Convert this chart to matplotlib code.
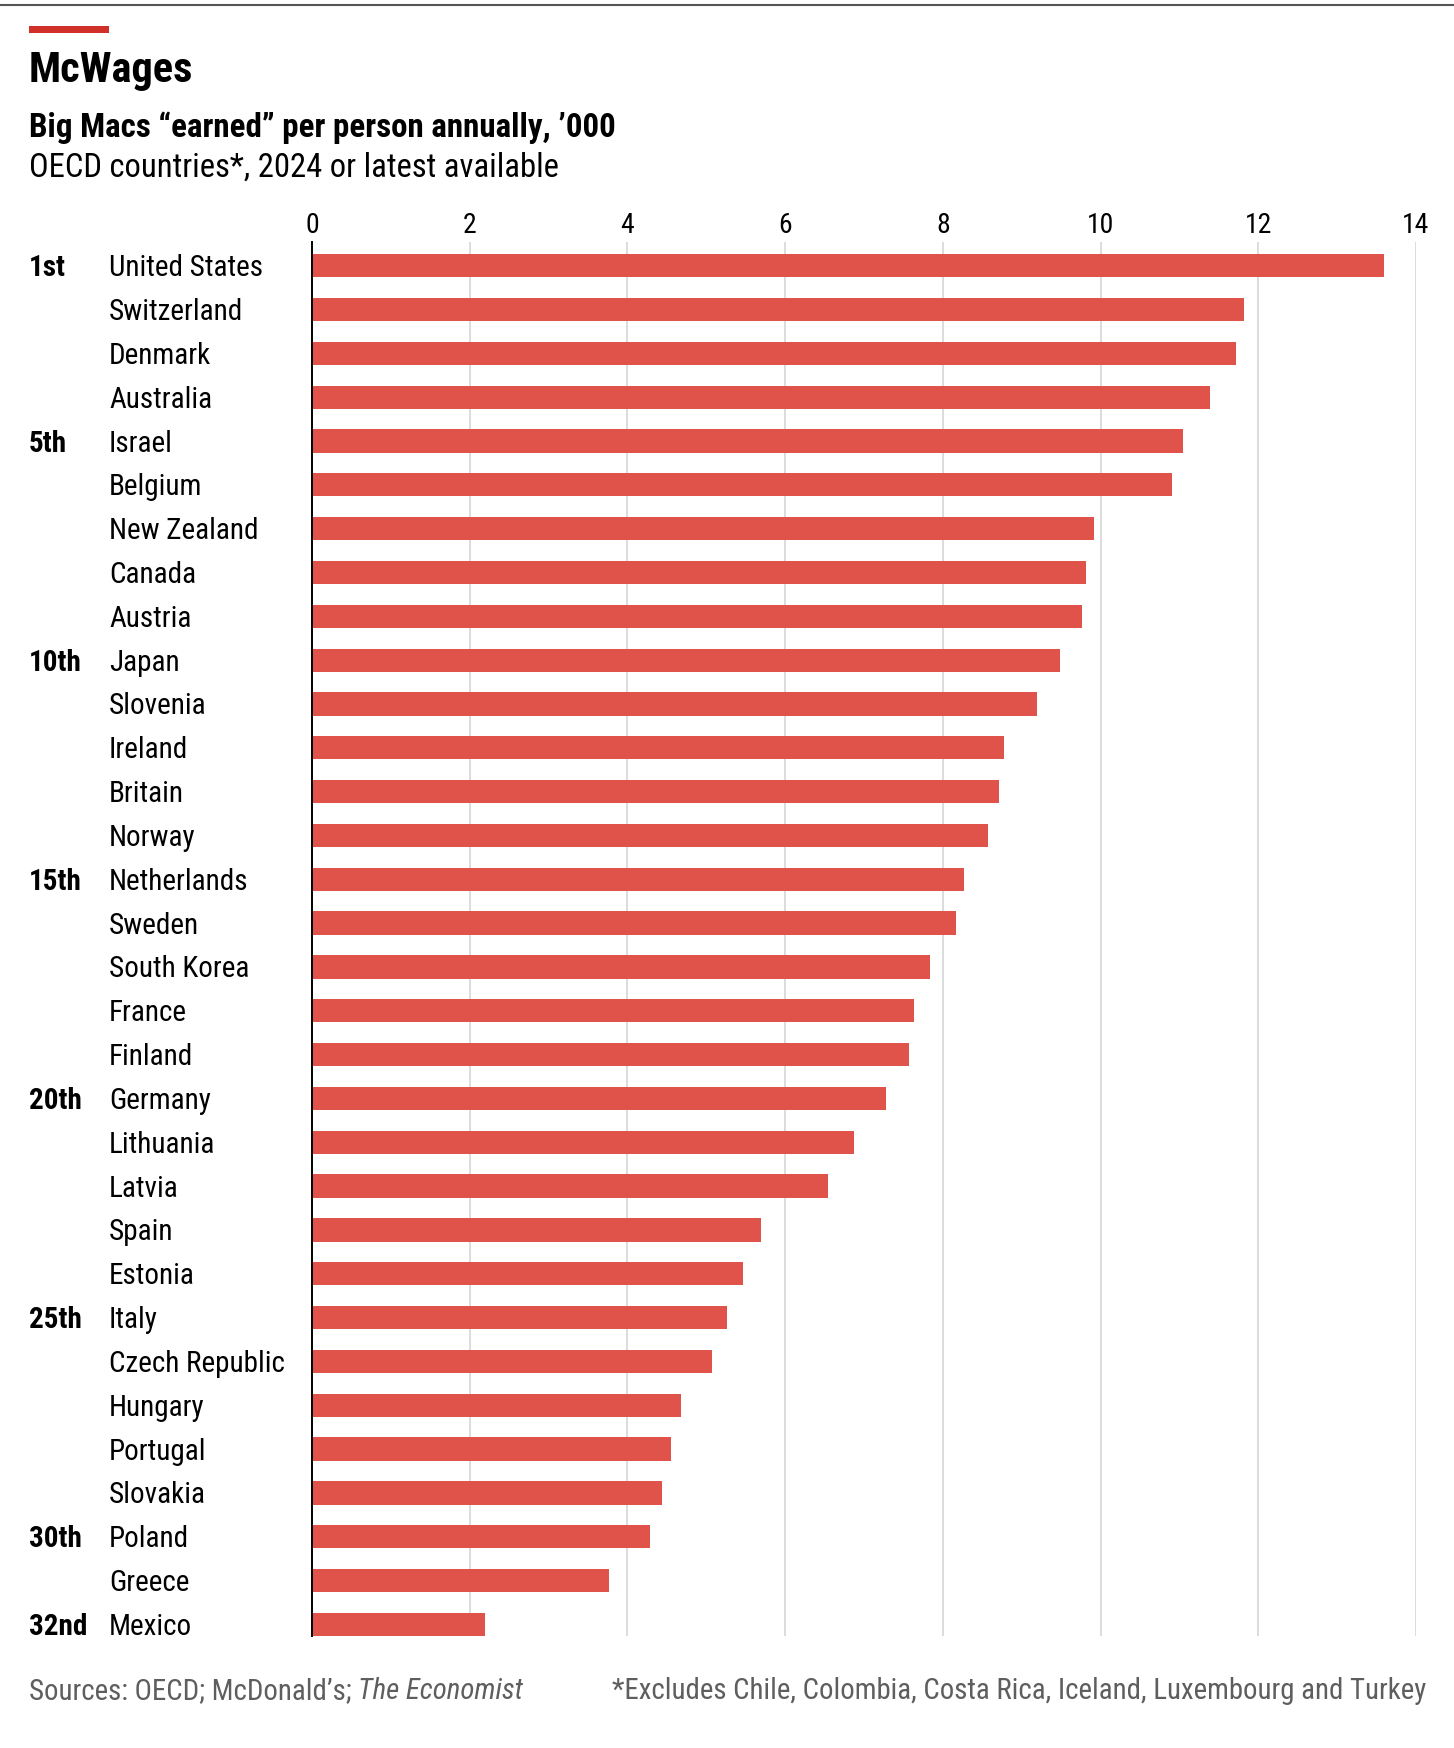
import matplotlib
matplotlib.use("Agg")
import matplotlib.pyplot as plt
from matplotlib.transforms import blended_transform_factory
from matplotlib.lines import Line2D
from matplotlib.patches import Rectangle

# ---------------- data ----------------
countries = ["United States", "Switzerland", "Denmark", "Australia", "Israel",
             "Belgium", "New Zealand", "Canada", "Austria", "Japan",
             "Slovenia", "Ireland", "Britain", "Norway", "Netherlands",
             "Sweden", "South Korea", "France", "Finland", "Germany",
             "Lithuania", "Latvia", "Spain", "Estonia", "Italy",
             "Czech Republic", "Hungary", "Portugal", "Slovakia", "Poland",
             "Greece", "Mexico"]
big_macs = [13.60, 11.82, 11.72, 11.39, 11.05,
            10.90, 9.92, 9.82, 9.77, 9.49,
            9.19, 8.78, 8.71, 8.57, 8.27,
            8.17, 7.84, 7.64, 7.57, 7.28,
            6.87, 6.54, 5.69, 5.46, 5.26,
            5.07, 4.68, 4.55, 4.44, 4.29,
            3.77, 2.20]
rank_labels = {0: "1st", 4: "5th", 9: "10th", 14: "15th", 19: "20th",
               24: "25th", 29: "30th", 31: "32nd"}
x_ticks = [0, 2, 4, 6, 8, 10, 12, 14]

title = "McWages"
subtitle = "Big Macs \u201cearned\u201d per person annually, \u2019000"
subtitle2 = "OECD countries*, 2024 or latest available"
source_a = "Sources: OECD; McDonald\u2019s; "
source_b = "The Economist"
footnote = "*Excludes Chile, Colombia, Costa Rica, Iceland, Luxembourg and Turkey"

# ---------------- style ----------------
plt.rcParams['font.family'] = ['Roboto Condensed', 'Roboto', 'DejaVu Sans']
BAR = '#E0534A'
RED = '#D12F2A'
GRID = '#D9D9D9'
GREY = '#5E5E5E'

W, H = 1454, 1748
fig = plt.figure(figsize=(W / 100, H / 100), dpi=100)

def fx(px):
    return px / W

def fy(py):
    return 1 - py / H

ax = fig.add_axes([fx(312), fy(1636), fx(1416) - fx(312), fy(242) - fy(1636)])

ypos = list(range(len(countries)))
ax.barh(ypos, big_macs, height=0.53, color=BAR, zorder=2)
ax.set_xlim(0, 14)
ax.set_ylim(len(countries) - 1 + 0.265, -0.54)

ax.xaxis.tick_top()
ax.set_xticks(x_ticks)
ax.set_xticklabels([str(t) for t in x_ticks])
ax.tick_params(axis='x', length=0, pad=2.5, labelsize=20, labelcolor='black')
ax.set_yticks([])
for side in ['top', 'right', 'bottom']:
    ax.spines[side].set_visible(False)
ax.spines['left'].set_color('black')
ax.spines['left'].set_linewidth(1.4)
ax.spines['left'].set_zorder(3)
for t in x_ticks[1:]:
    ax.axvline(t, color=GRID, lw=1.3, zorder=1)

# labels
tr = blended_transform_factory(fig.transFigure, ax.transData)
for i, name in enumerate(countries):
    ax.text(fx(109), i + 0.24, name, transform=tr, ha='left', va='baseline',
            fontsize=21, color='black')
    if i in rank_labels:
        ax.text(fx(29), i + 0.24, rank_labels[i], transform=tr, ha='left',
                va='baseline', fontsize=21, fontweight='bold', color='black')

# header
fig.add_artist(Line2D([0, 1], [fy(5), fy(5)], color='#555555', lw=1.5,
                      transform=fig.transFigure))
fig.add_artist(Rectangle((fx(29), fy(33)), fx(109) - fx(29), fy(26) - fy(33),
                         color=RED, transform=fig.transFigure, lw=0))
fig.text(fx(29), fy(82), title, fontsize=30.5, fontweight='bold', va='baseline')
fig.text(fx(29), fy(137), subtitle, fontsize=23.8, fontweight='bold', va='baseline')
fig.text(fx(29), fy(177), subtitle2, fontsize=23.5, va='baseline')

# footer
t1 = fig.text(fx(29), fy(1699), source_a, fontsize=20.8, color=GREY, va='baseline')
fig.canvas.draw()
bb = t1.get_window_extent()
fig.text(bb.x1 / W, fy(1699), source_b, fontsize=20.8, color=GREY,
         style='italic', va='baseline')
fig.text(fx(1426), fy(1699), footnote, fontsize=20.8, color=GREY,
         ha='right', va='baseline')

fig.savefig('out.png', dpi=100, facecolor='white')
